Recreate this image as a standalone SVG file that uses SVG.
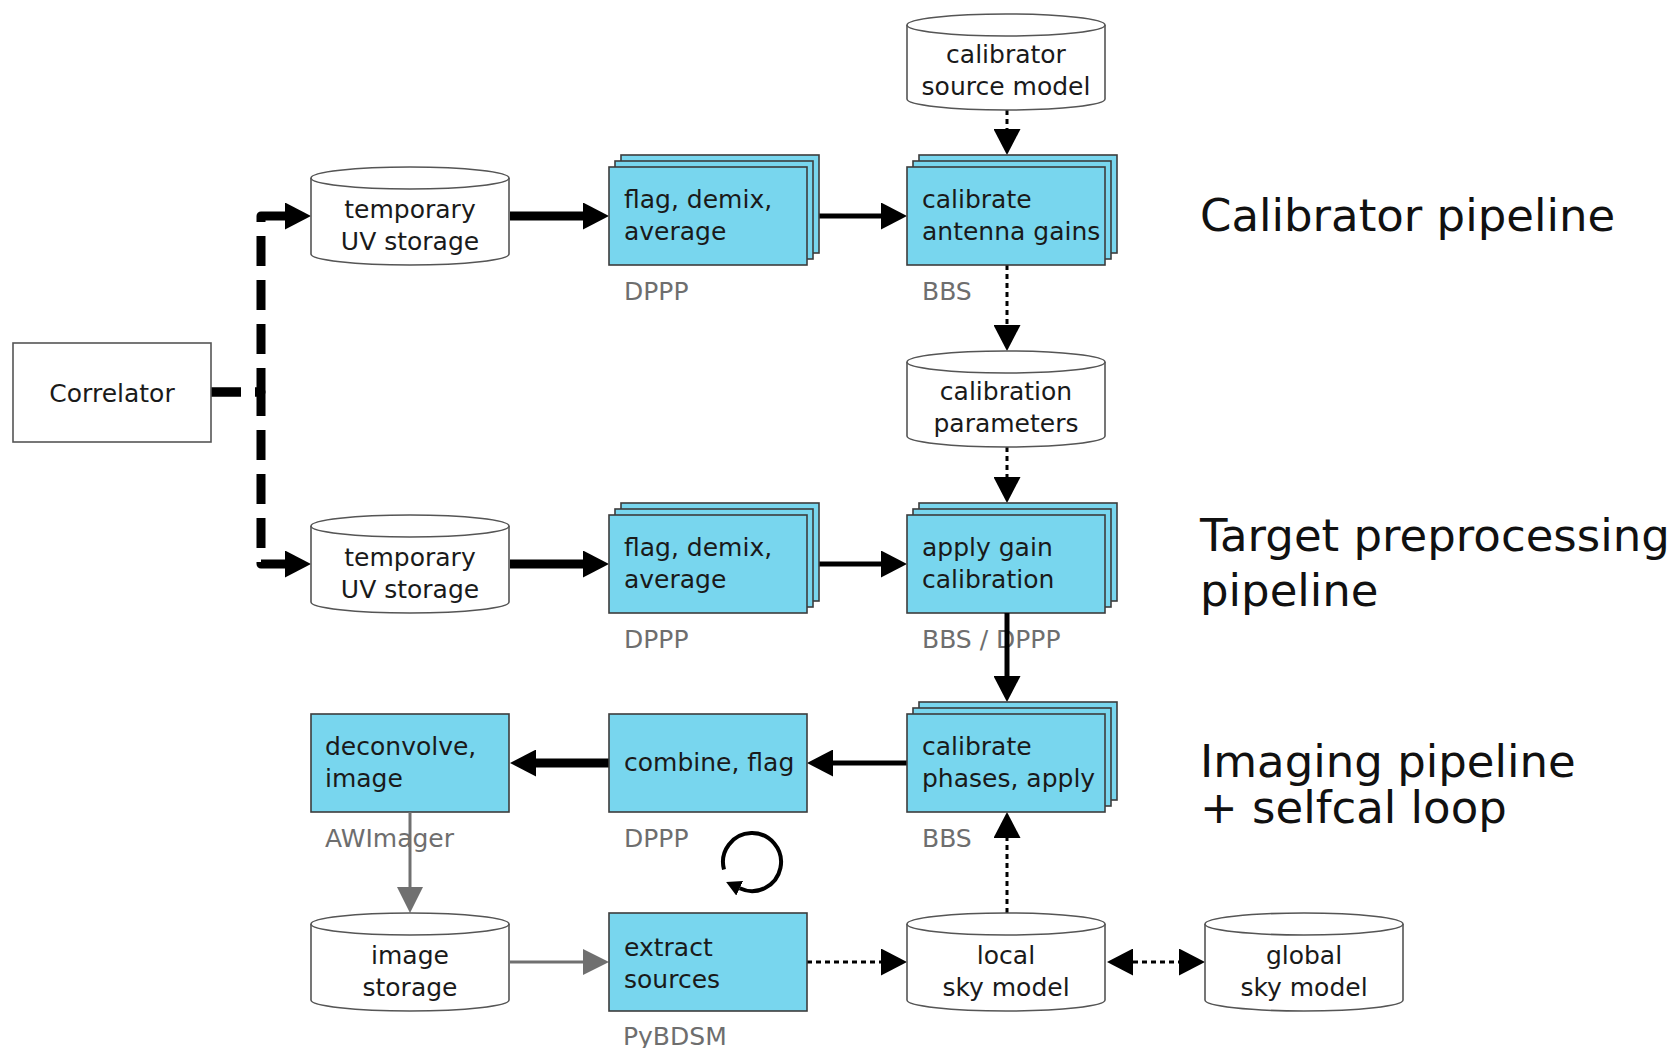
<svg xmlns="http://www.w3.org/2000/svg" width="1670" height="1048" viewBox="0 0 1670 1048">
<style>
.t{font-family:"DejaVu Sans","Liberation Sans",sans-serif;font-size:25px;fill:#1a1a1a}
.c{text-anchor:middle}
.lab{font-family:"DejaVu Sans","Liberation Sans",sans-serif;font-size:25px;fill:#6e6e6e}
.title{font-family:"DejaVu Sans","Liberation Sans",sans-serif;font-size:45px;fill:#111}
.proc{fill:#78d6ee;stroke:#3c3c3c;stroke-width:1.6}
.cyl{fill:#fff;stroke:#555;stroke-width:1.6}
.box{fill:#fff;stroke:#555;stroke-width:1.6}
.thick{stroke:#000;stroke-width:9;fill:none}
.med{stroke:#000;stroke-width:5;fill:none}
.dot{stroke:#000;stroke-width:3;fill:none;stroke-dasharray:5 4}
.gray{stroke:#707070;stroke-width:3;fill:none}
.dash{stroke:#000;stroke-width:9;fill:none;stroke-dasharray:30 14;stroke-linejoin:round}
</style>
<defs>
<marker id="ab" markerUnits="userSpaceOnUse" markerWidth="27" markerHeight="27" refX="0" refY="13.5" orient="auto-start-reverse"><path d="M0,0 L26,13.5 L0,27 z" fill="#000"/></marker>
<marker id="ag" markerUnits="userSpaceOnUse" markerWidth="26" markerHeight="26" refX="0" refY="13" orient="auto"><path d="M0,0 L26,13 L0,26 z" fill="#707070"/></marker>
<marker id="as" markerUnits="userSpaceOnUse" markerWidth="16" markerHeight="16" refX="0" refY="8" orient="auto"><path d="M0,0 L15,8 L0,16 z" fill="#000"/></marker>
</defs>

<g id="connectors">
<path class="dash" d="M211,392 H261 V216 H285" marker-end="url(#ab)"/>
<path class="dash" d="M211,392 H261 V564 H285" marker-end="url(#ab)"/>
<path class="thick" d="M510,216 H583" marker-end="url(#ab)"/>
<path class="med" d="M819,216 H881" marker-end="url(#ab)"/>
<path class="dot" d="M1007,110 V129" marker-end="url(#ab)"/>
<path class="dot" d="M1007,265 V325" marker-end="url(#ab)"/>
<path class="dot" d="M1007,447 V477" marker-end="url(#ab)"/>
<path class="thick" d="M510,564 H583" marker-end="url(#ab)"/>
<path class="med" d="M807,564 H881" marker-end="url(#ab)"/>
<path class="thick" d="M609,763 H536" marker-end="url(#ab)"/>
<path class="med" d="M907,763 H833" marker-end="url(#ab)"/>
<path class="dot" d="M807,962 H881" marker-end="url(#ab)"/>
<path class="dot" d="M1007,913 V838" marker-end="url(#ab)"/>
<path class="dot" d="M1133,962 H1179" marker-start="url(#ab)" marker-end="url(#ab)"/>
<path class="gray" d="M510,962 H583" marker-end="url(#ag)"/>
<path d="M724,869.5 A29,29 0 1,1 739.7,888.3" stroke="#000" stroke-width="4" fill="none" marker-end="url(#as)"/>
</g>

<g id="correlator">
<rect class="box" x="13" y="343" width="198" height="99"/>
<text class="t c" x="112" y="402">Correlator</text>
</g>

<g id="tempuv1">
<path class="cyl" d="M311,178 A99,11 0 0,1 509,178 V254 A99,11 0 0,1 311,254 Z"/>
<path class="cyl" d="M311,178 A99,11 0 0,0 509,178" fill="none"/>
<text class="t c" x="410" y="218">temporary</text>
<text class="t c" x="410" y="250">UV storage</text>
</g>

<g id="flag1">
<rect class="proc" x="621" y="155" width="198" height="98"/>
<rect class="proc" x="615" y="161" width="198" height="98"/>
<rect class="proc" x="609" y="167" width="198" height="98"/>
<text class="t" x="624" y="208">flag, demix,</text>
<text class="t" x="624" y="240">average</text>
<text class="lab" x="624" y="300">DPPP</text>
</g>

<g id="calsrc">
<path class="cyl" d="M907,25 A99,11 0 0,1 1105,25 V99 A99,11 0 0,1 907,99 Z"/>
<path class="cyl" d="M907,25 A99,11 0 0,0 1105,25" fill="none"/>
<text class="t c" x="1006" y="63">calibrator</text>
<text class="t c" x="1006" y="95">source model</text>
</g>

<g id="calgains">
<rect class="proc" x="919" y="155" width="198" height="98"/>
<rect class="proc" x="913" y="161" width="198" height="98"/>
<rect class="proc" x="907" y="167" width="198" height="98"/>
<text class="t" x="922" y="208">calibrate</text>
<text class="t" x="922" y="240">antenna gains</text>
<text class="lab" x="922" y="300">BBS</text>
</g>

<g id="calparams">
<path class="cyl" d="M907,362 A99,11 0 0,1 1105,362 V436 A99,11 0 0,1 907,436 Z"/>
<path class="cyl" d="M907,362 A99,11 0 0,0 1105,362" fill="none"/>
<text class="t c" x="1006" y="400">calibration</text>
<text class="t c" x="1006" y="432">parameters</text>
</g>

<g id="tempuv2">
<path class="cyl" d="M311,526 A99,11 0 0,1 509,526 V602 A99,11 0 0,1 311,602 Z"/>
<path class="cyl" d="M311,526 A99,11 0 0,0 509,526" fill="none"/>
<text class="t c" x="410" y="566">temporary</text>
<text class="t c" x="410" y="598">UV storage</text>
</g>

<g id="flag2">
<rect class="proc" x="621" y="503" width="198" height="98"/>
<rect class="proc" x="615" y="509" width="198" height="98"/>
<rect class="proc" x="609" y="515" width="198" height="98"/>
<text class="t" x="624" y="556">flag, demix,</text>
<text class="t" x="624" y="588">average</text>
<text class="lab" x="624" y="648">DPPP</text>
</g>

<g id="applygain">
<rect class="proc" x="919" y="503" width="198" height="98"/>
<rect class="proc" x="913" y="509" width="198" height="98"/>
<rect class="proc" x="907" y="515" width="198" height="98"/>
<text class="t" x="922" y="556">apply gain</text>
<text class="t" x="922" y="588">calibration</text>
<text class="lab" x="922" y="648">BBS / DPPP</text>
</g>
<path class="med" d="M1007,613 V676" marker-end="url(#ab)"/>

<g id="calphases">
<rect class="proc" x="919" y="702" width="198" height="98"/>
<rect class="proc" x="913" y="708" width="198" height="98"/>
<rect class="proc" x="907" y="714" width="198" height="98"/>
<text class="t" x="922" y="755">calibrate</text>
<text class="t" x="922" y="787">phases, apply</text>
<text class="lab" x="922" y="847">BBS</text>
</g>

<g id="combine">
<rect class="proc" x="609" y="714" width="198" height="98"/>
<text class="t" x="624" y="771">combine, flag</text>
<text class="lab" x="624" y="847">DPPP</text>
</g>

<g id="deconvolve">
<rect class="proc" x="311" y="714" width="198" height="98"/>
<text class="t" x="325" y="755">deconvolve,</text>
<text class="t" x="325" y="787">image</text>
<text class="lab" x="325" y="847">AWImager</text>
</g>
<path class="gray" d="M410,812 V887" marker-end="url(#ag)"/>

<g id="imgstore">
<path class="cyl" d="M311,924 A99,11 0 0,1 509,924 V1000 A99,11 0 0,1 311,1000 Z"/>
<path class="cyl" d="M311,924 A99,11 0 0,0 509,924" fill="none"/>
<text class="t c" x="410" y="964">image</text>
<text class="t c" x="410" y="996">storage</text>
</g>

<g id="extract">
<rect class="proc" x="609" y="913" width="198" height="98"/>
<text class="t" x="624" y="956">extract</text>
<text class="t" x="624" y="988">sources</text>
<text class="lab" x="623" y="1045">PyBDSM</text>
</g>

<g id="localsky">
<path class="cyl" d="M907,924 A99,11 0 0,1 1105,924 V1000 A99,11 0 0,1 907,1000 Z"/>
<path class="cyl" d="M907,924 A99,11 0 0,0 1105,924" fill="none"/>
<text class="t c" x="1006" y="964">local</text>
<text class="t c" x="1006" y="996">sky model</text>
</g>

<g id="globalsky">
<path class="cyl" d="M1205,924 A99,11 0 0,1 1403,924 V1000 A99,11 0 0,1 1205,1000 Z"/>
<path class="cyl" d="M1205,924 A99,11 0 0,0 1403,924" fill="none"/>
<text class="t c" x="1304" y="964">global</text>
<text class="t c" x="1304" y="996">sky model</text>
</g>

<g id="titles">
<text class="title" x="1200" y="231">Calibrator pipeline</text>
<text class="title" x="1200" y="551">Target preprocessing</text>
<text class="title" x="1200" y="606">pipeline</text>
<text class="title" x="1200" y="777">Imaging pipeline</text>
<text class="title" x="1200" y="823">+ selfcal loop</text>
</g>
</svg>
